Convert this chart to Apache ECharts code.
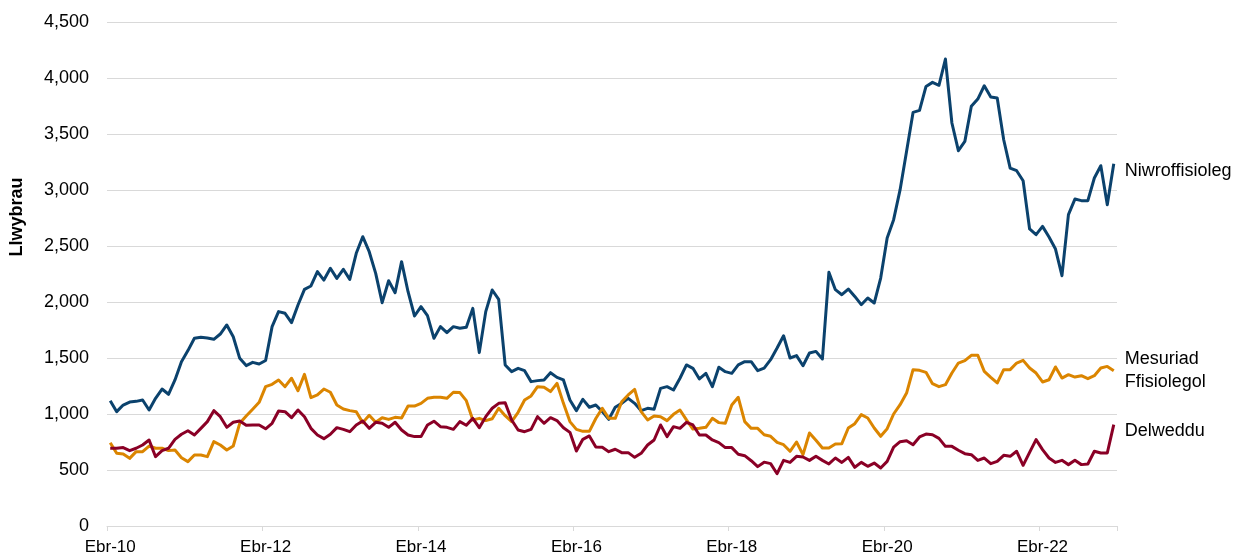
<!DOCTYPE html>
<html>
<head>
<meta charset="utf-8">
<script src="https://cdn.jsdelivr.net/npm/echarts@6/dist/echarts.min.js"></script>
<style>
html,body{margin:0;padding:0;background:#fff;}
#chart{width:1244px;height:556px;}
</style>
</head>
<body>
<div id="chart"></div>
<script>
// Monthly, Apr 2010 (Ebr-10) to Mar 2023
var monthNames = ['Ebr','Mai','Meh','Gor','Awst','Medi','Hyd','Tach','Rhag','Ion','Chwe','Maw'];
var startYear = 2010;
var monthCount = 156;

var niwroffisioleg = [
1119,1021,1080,1107,1113,1125,1036,1140,1223,1176,1304,1467,1566,1676,1685,1679,1667,1714,1795,1690,1497,1432,1461,1446,
1478,1780,1914,1899,1816,1973,2113,2143,2271,2196,2301,2211,2292,2202,2435,2583,2449,2256,1994,2190,2083,2360,2092,1875,
1958,1878,1676,1780,1726,1780,1765,1774,1943,1548,1914,2107,2024,1438,1378,1408,1387,1289,1298,1304,1369,1327,1304,1125,
1030,1131,1060,1080,1021,952,1060,1095,1140,1095,1030,1051,1042,1229,1244,1214,1319,1438,1408,1313,1363,1244,1417,1378,
1363,1438,1467,1467,1387,1410,1485,1589,1699,1500,1521,1431,1545,1559,1491,2265,2110,2065,2116,2050,1976,2036,1991,2214,
2571,2735,3003,3345,3693,3711,3925,3961,3935,4169,3598,3351,3434,3747,3812,3931,3830,3821,3449,3196,3172,3083,2652,2601,
2675,2580,2473,2235,2780,2919,2905,2905,3107,3217,2869,3235
];

var mesuriadFfisiolegol = [
744,649,643,604,664,664,714,694,694,673,679,610,575,634,634,619,753,723,679,714,917,982,1042,1104,
1244,1265,1304,1244,1319,1208,1354,1146,1170,1223,1194,1080,1045,1030,1021,923,988,926,967,952,970,964,1071,1071,
1095,1140,1150,1149,1140,1194,1191,1119,947,961,941,958,1051,985,932,1015,1125,1161,1244,1238,1200,1274,1095,932,
863,845,845,960,1051,961,961,1110,1170,1220,1021,947,982,976,941,997,1036,947,866,872,881,961,923,917,
1080,1149,932,872,872,815,801,747,726,667,750,637,830,765,696,696,732,735,875,914,994,964,875,801,
869,1000,1083,1187,1396,1390,1372,1271,1244,1262,1366,1455,1476,1524,1524,1381,1327,1277,1396,1396,1455,1479,1411,1366,
1286,1306,1420,1321,1351,1330,1342,1315,1342,1411,1425,1387
];

var delweddu = [
694,694,700,673,694,723,768,619,673,694,774,819,851,813,872,932,1030,976,881,926,938,899,902,902,
868,917,1027,1021,967,1036,976,872,813,780,819,878,863,842,902,938,872,926,917,881,926,857,813,798,
798,902,936,887,881,863,932,899,961,878,976,1051,1095,1101,947,857,842,863,976,917,967,941,878,836,
670,774,804,706,703,664,685,655,655,613,649,723,768,902,798,887,872,926,902,813,813,768,744,700,
700,640,628,583,530,570,557,467,586,568,622,616,586,622,586,554,607,568,613,524,568,533,562,518,
577,705,753,762,726,795,821,815,782,711,711,676,646,637,586,607,557,577,631,622,667,542,658,771,
682,607,568,586,548,586,548,554,667,652,652,905
];

var yTicks = [0,500,1000,1500,2000,2500,3000,3500,4000,4500];

var categories = [];
for (var i = 0; i < monthCount; i++) {
  var m = i % 12;
  var yr = startYear + Math.floor((i + 3) / 12);
  categories.push(monthNames[m] + '-' + String(yr).slice(2));
}

var FONT = 'Liberation Sans, Arial, sans-serif';
var FS = 18;
var chart = echarts.init(document.getElementById('chart'), null, {renderer: 'canvas'});

function makeSeries(name, data, color, label, lh, off) {
  return {
    name: name,
    type: 'line',
    data: data,
    symbol: 'none',
    smooth: false,
    lineStyle: {color: color, width: 3, join: 'round'},
    itemStyle: {color: color},
    endLabel: {
      show: true,
      formatter: label,
      color: '#000',
      fontFamily: FONT,
      fontSize: FS,
      lineHeight: lh || 22,
      distance: 11,
      offset: off || [0, 0]
    },
    emphasis: {disabled: true},
    animation: false
  };
}

chart.setOption({
  animation: false,
  backgroundColor: '#fff',
  grid: {left: 107, right: 127, top: 22, bottom: 30, containLabel: false},
  xAxis: {
    type: 'category',
    data: categories,
    boundaryGap: true,
    axisLine: {show: true, lineStyle: {color: '#d9d9d9', width: 1}},
    axisTick: {show: true, interval: 23, length: 5, lineStyle: {color: '#d9d9d9'}},
    axisLabel: {interval: 23, color: '#000', fontFamily: FONT, fontSize: 17, margin: 13},
    splitLine: {show: false}
  },
  yAxis: {
    type: 'value',
    min: yTicks[0],
    max: yTicks[yTicks.length - 1],
    interval: 500,
    axisLine: {show: false},
    axisTick: {show: false},
    axisLabel: {
      color: '#000', fontFamily: FONT, fontSize: FS, margin: 18,
      formatter: function (v) { return v.toLocaleString('en-US'); }
    },
    splitLine: {show: true, lineStyle: {color: '#d9d9d9', width: 1}}
  },
  graphic: [{
    type: 'text',
    x: 17, y: 217,
    rotation: Math.PI / 2,
    style: {
      text: 'Llwybrau',
      font: 'bold 18px ' + FONT,
      fill: '#000',
      align: 'center',
      verticalAlign: 'middle'
    }
  }],
  series: [
    makeSeries('Niwroffisioleg', niwroffisioleg, '#0b426d', 'Niwroffisioleg', 22, [0, 7]),
    makeSeries('Mesuriad Ffisiolegol', mesuriadFfisiolegol, '#db8500', 'Mesuriad\nFfisiolegol', 23, [0, 0]),
    makeSeries('Delweddu', delweddu, '#8a0026', 'Delweddu', 22, [0, 6])
  ]
});
</script>
</body>
</html>
